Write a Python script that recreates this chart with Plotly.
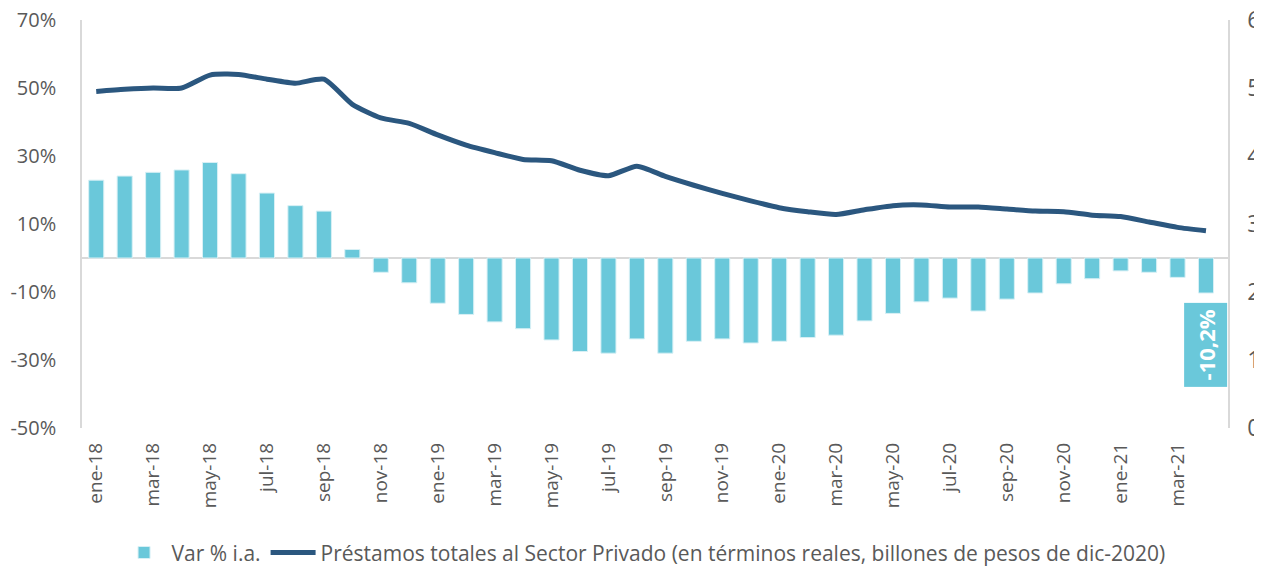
import plotly.graph_objects as go

meses = ["ene", "feb", "mar", "abr", "may", "jun", "jul", "ago", "sep", "oct", "nov", "dic"]
categorias = [f"{m}-{a}" for a in ["18", "19", "20"] for m in meses] + ["ene-21", "feb-21", "mar-21", "abr-21"]

var_ia = [22.9, 24.1, 25.2, 25.9, 28.1, 24.8, 19.1, 15.4, 13.8, 2.5,
          -4.2, -7.3, -13.3, -16.6, -18.8, -20.8, -24.1, -27.5, -28.0, -23.8,
          -28.0, -24.5, -23.8, -25.0, -24.5, -23.4, -22.7, -18.5, -16.3, -12.9,
          -11.8, -15.6, -12.1, -10.3, -7.6, -6.1, -3.8, -4.2, -5.7, -10.3]

prestamos = [4.95, 4.98, 5.00, 5.00, 5.19, 5.20, 5.13, 5.07, 5.13, 4.76,
             4.56, 4.48, 4.31, 4.16, 4.05, 3.95, 3.93, 3.79, 3.71, 3.85,
             3.70, 3.57, 3.45, 3.34, 3.24, 3.18, 3.14, 3.21, 3.27, 3.28,
             3.25, 3.25, 3.22, 3.19, 3.18, 3.13, 3.11, 3.03, 2.95, 2.90]

left_ticks = [-50, -30, -10, 10, 30, 50, 70]
left_labels = ["-50%", "-30%", "-10%", "10%", "30%", "50%", "70%"]
right_ticks = [0, 1, 2, 3, 4, 5, 6]
right_labels = ["0", "1", "2", "3", "4", "5", "6"]
etiqueta_final = "-10,2%"

bar_color = "#6AC8DA"
line_color = "#2B577F"
gray = "#595959"
font_family = "Open Sans, Liberation Sans, sans-serif"

fig = go.Figure()
fig.add_trace(go.Bar(
    x=categorias, y=var_ia, name="Var % i.a.",
    marker=dict(color=bar_color, line=dict(color="#D8F0F5", width=1)),
    yaxis="y",
))
fig.add_trace(go.Scatter(
    x=categorias, y=prestamos, mode="lines",
    name="Préstamos totales al Sector Privado (en términos reales, billones de pesos de dic-2020)",
    line=dict(color=line_color, width=5, shape="spline", smoothing=0.6),
    yaxis="y2",
))

fig.add_annotation(
    x=categorias[-1], y=-25.7, xref="x", yref="y",
    text="<b>" + etiqueta_final + "</b>", textangle=-90, showarrow=False,
    font=dict(color="white", size=22, family=font_family),
    bgcolor=bar_color, borderpad=6,
)

fig.update_layout(
    width=1254, height=560,
    margin=dict(l=74, r=34, t=12, b=140, autoexpand=False),
    plot_bgcolor="white", paper_bgcolor="white",
    bargap=0.47,
    font=dict(family=font_family, color=gray, size=19),
    showlegend=True,
    legend=dict(orientation="h", x=0.49, xanchor="center", y=-0.306, yanchor="middle",
                font=dict(size=21, color=gray), itemwidth=45, tracegroupgap=0),
    xaxis=dict(
        type="category", categoryorder="array", categoryarray=categorias,
        tickmode="array", tickvals=categorias[::2], ticktext=categorias[::2],
        tickangle=-90, tickfont=dict(size=19, color=gray),
        showgrid=False, showline=False, zeroline=False, ticks="",
        ticklabelstandoff=10, automargin=False, ticklabeloverflow="allow",
    ),
    yaxis=dict(
        range=[-50, 70], tickmode="array", tickvals=left_ticks, ticktext=left_labels,
        showgrid=False, zeroline=True, zerolinecolor="#D9D9D9", zerolinewidth=2,
        showline=True, linecolor="#D9D9D9", linewidth=1.5, ticks="",
        tickfont=dict(size=20, color=gray), ticklabelstandoff=20, automargin=False,
        ticklabeloverflow="allow",
    ),
    yaxis2=dict(
        range=[0, 6], overlaying="y", side="right", tickmode="array",
        tickvals=right_ticks, ticktext=right_labels,
        showgrid=False, zeroline=False, showline=True, linecolor="#D9D9D9", linewidth=1.5,
        ticks="outside", ticklen=13, tickcolor="rgba(0,0,0,0)",
        tickfont=dict(size=23, color=gray), automargin=False,
        ticklabeloverflow="allow",
    ),
)

fig.write_html("out.html")
